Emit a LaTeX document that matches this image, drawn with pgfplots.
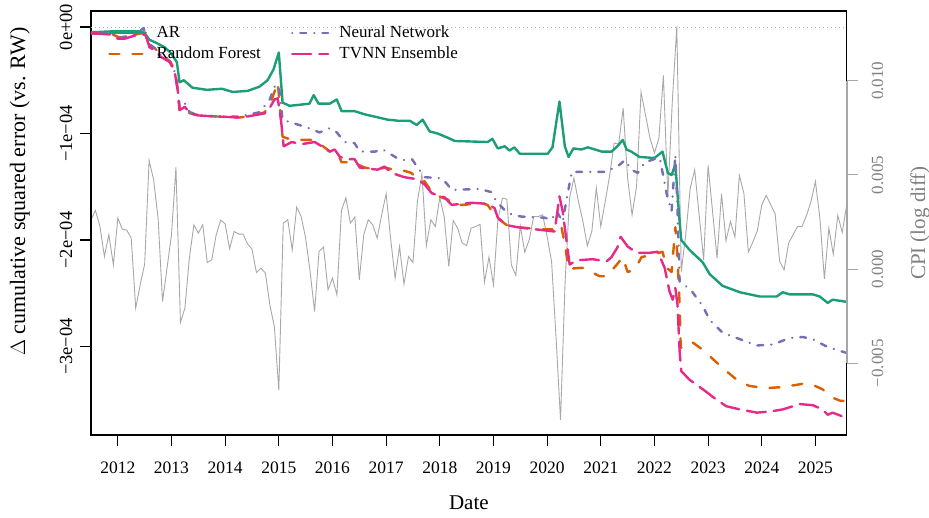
\documentclass[border=0pt]{standalone}
\usepackage{fontspec}
\setmainfont{Liberation Serif}
\usepackage{pgfplots}
\pgfplotsset{compat=1.18}
\definecolor{cAR}{HTML}{1B9E77}
\definecolor{cRF}{HTML}{D95F02}
\definecolor{cNN}{HTML}{7570B3}
\definecolor{cTV}{HTML}{E7298A}
\definecolor{cpigray}{HTML}{A8A8A8}
\definecolor{axgray}{HTML}{A6A6A6}
\definecolor{labgray}{HTML}{808080}
\pgfplotsset{base/.style={width=755.7pt, height=424pt, scale only axis,
  xmin=2011.5, xmax=2025.583, at={(0,0)}, anchor=south west}}
\begin{document}
\begin{tikzpicture}
\path[use as bounding box] (-91pt,-83pt) rectangle (838pt,435pt);
% CPI background
\begin{axis}[base, hide axis, ymin=-0.008806, ymax=0.0137, scaled y ticks=false]
\addplot[cpigray, line width=0.9pt] table {
t v
2011.500 0.00262
2011.583 0.00311
2011.667 0.00226
2011.750 0.00067
2011.833 0.00182
2011.917 0.00023
2012.000 0.00271
2012.083 0.00212
2012.167 0.00207
2012.250 0.00164
2012.333 -0.00207
2012.417 -0.00083
2012.500 0.00026
2012.583 0.00577
2012.667 0.00474
2012.750 0.00271
2012.833 -0.00172
2012.917 0.00005
2013.000 0.00182
2013.083 0.00540
2013.167 -0.00283
2013.250 -0.00207
2013.333 0.00058
2013.417 0.00235
2013.500 0.00191
2013.583 0.00235
2013.667 0.00035
2013.750 0.00049
2013.833 0.00182
2013.917 0.00260
2014.000 0.00240
2014.083 0.00108
2014.167 0.00200
2014.250 0.00186
2014.333 0.00186
2014.417 0.00134
2014.500 0.00106
2014.583 -0.00018
2014.667 0.00005
2014.750 -0.00021
2014.833 -0.00190
2014.917 -0.00305
2015.000 -0.00641
2015.083 0.00244
2015.167 0.00262
2015.250 0.00102
2015.333 0.00329
2015.417 0.00279
2015.500 0.00164
2015.583 -0.00013
2015.667 -0.00225
2015.750 0.00094
2015.833 0.00117
2015.917 -0.00110
2016.000 -0.00048
2016.083 -0.00136
2016.167 0.00311
2016.250 0.00379
2016.333 0.00244
2016.417 0.00276
2016.500 -0.00057
2016.583 0.00182
2016.667 0.00262
2016.750 0.00235
2016.833 0.00164
2016.917 0.00288
2017.000 0.00400
2017.083 0.00164
2017.167 -0.00048
2017.250 0.00120
2017.333 -0.00080
2017.417 0.00067
2017.500 0.00035
2017.583 0.00359
2017.667 0.00504
2017.750 0.00125
2017.833 0.00262
2017.917 0.00226
2018.000 0.00380
2018.083 0.00276
2018.167 0.00014
2018.250 0.00258
2018.333 0.00217
2018.417 0.00138
2018.500 0.00125
2018.583 0.00217
2018.667 0.00226
2018.750 0.00238
2018.833 -0.00069
2018.917 0.00064
2019.000 -0.00083
2019.083 0.00262
2019.167 0.00377
2019.250 0.00371
2019.333 0.00023
2019.417 -0.00034
2019.500 0.00230
2019.583 0.00090
2019.667 0.00156
2019.750 0.00279
2019.833 0.00279
2019.917 0.00288
2020.000 0.00173
2020.083 0.00041
2020.167 -0.00366
2020.250 -0.00800
2020.333 -0.00083
2020.417 0.00377
2020.500 0.00483
2020.583 0.00359
2020.667 0.00253
2020.750 0.00124
2020.833 0.00200
2020.917 0.00430
2021.000 0.00226
2021.083 0.00359
2021.167 0.00500
2021.250 0.00669
2021.333 0.00663
2021.417 0.00854
2021.500 0.00483
2021.583 0.00288
2021.667 0.00439
2021.750 0.00939
2021.833 0.00819
2021.917 0.00695
2022.000 0.00616
2022.083 0.00695
2022.167 0.01028
2022.250 0.00386
2022.333 0.00890
2022.417 0.01288
2022.500 -0.00013
2022.583 0.00182
2022.667 0.00430
2022.750 0.00527
2022.833 0.00288
2022.917 0.00049
2023.000 0.00550
2023.083 0.00306
2023.167 0.00058
2023.250 0.00400
2023.333 0.00150
2023.417 0.00253
2023.500 0.00170
2023.583 0.00497
2023.667 0.00403
2023.750 0.00090
2023.833 0.00143
2023.917 0.00203
2024.000 0.00341
2024.083 0.00391
2024.167 0.00341
2024.250 0.00292
2024.333 0.00041
2024.417 -0.00004
2024.500 0.00138
2024.583 0.00182
2024.667 0.00226
2024.750 0.00226
2024.833 0.00283
2024.917 0.00359
2025.000 0.00465
2025.083 0.00271
2025.167 -0.00052
2025.250 0.00217
2025.333 0.00079
2025.417 0.00285
2025.500 0.00194
2025.583 0.00341
};
\end{axis}
% main axis
\begin{axis}[base, ymin=-3.83, ymax=0.15,
  axis line style={line width=1.2pt},
  tick style={black, line width=1.1pt},
  tick align=outside, major tick length=11pt, tick pos=left,
  xtick={2012,2013,2014,2015,2016,2017,2018,2019,2020,2021,2022,2023,2024,2025},
  xticklabels={2012,2013,2014,2015,2016,2017,2018,2019,2020,2021,2022,2023,2024,2025},
  xticklabel style={anchor=base, inner sep=0pt, font=\fontsize{17.5}{20}\selectfont},
  xticklabel shift=28pt,
  ytick={-3,-2,-1,0},
  yticklabels={−3e−04,−2e−04,−1e−04,0e+00},
  yticklabel style={rotate=90, anchor=base, inner sep=0pt, font=\fontsize{18.5}{20}\selectfont},
  yticklabel shift=8pt,
  xlabel={Date},
  xlabel style={at={(axis description cs:0.5,-0.1769)}, anchor=base, inner sep=0pt, font=\fontsize{21}{24}\selectfont},
  ylabel={$\Delta$ cumulative squared error (vs. RW)},
  ylabel style={at={(axis description cs:-0.0873,0.574)}, anchor=base, inner sep=0pt, font=\fontsize{22}{24}\selectfont},
  legend columns=2, transpose legend, legend cell align=left,
  legend image code/.code={\draw[#1] (0pt,0pt) -- (36pt,0pt);},
  legend style={at={(axis description cs:0.0225,0.967)}, anchor=north west,
    draw=none, fill=none, inner sep=0pt, row sep=5pt, column sep=10pt,
    /tikz/every even column/.append style={column sep=30pt},
    font=\fontsize{17}{20}\selectfont,
    nodes={inner sep=0pt, text height=12pt, text depth=4pt}},
]
\addplot[labgray!60, line width=0.8pt, dash pattern=on 1pt off 3pt, forget plot] coordinates {(2011.5,0) (2025.583,0)};
\addplot[cAR, line width=2.4pt, line cap=round, line join=round] table {
2011.50 -0.05
2011.94 -0.04
2012.43 -0.04
2012.50 -0.06
2012.59 -0.12
2012.72 -0.15
2012.87 -0.19
2012.98 -0.24
2013.10 -0.33
2013.15 -0.52
2013.23 -0.50
2013.39 -0.57
2013.66 -0.59
2013.94 -0.58
2014.14 -0.61
2014.42 -0.60
2014.64 -0.56
2014.79 -0.50
2014.90 -0.40
2015.00 -0.24
2015.07 -0.71
2015.20 -0.74
2015.39 -0.73
2015.57 -0.72
2015.65 -0.64
2015.74 -0.72
2015.95 -0.72
2016.08 -0.68
2016.17 -0.79
2016.41 -0.79
2016.60 -0.82
2017.03 -0.87
2017.22 -0.88
2017.44 -0.88
2017.57 -0.92
2017.68 -0.87
2017.81 -0.98
2017.96 -1.00
2018.15 -1.04
2018.28 -1.07
2018.89 -1.08
2018.98 -1.05
2019.08 -1.14
2019.21 -1.12
2019.30 -1.16
2019.39 -1.13
2019.49 -1.19
2020.01 -1.19
2020.10 -1.13
2020.23 -0.70
2020.33 -1.12
2020.40 -1.22
2020.49 -1.14
2020.64 -1.15
2020.76 -1.13
2021.02 -1.17
2021.20 -1.17
2021.31 -1.12
2021.41 -1.06
2021.48 -1.15
2021.57 -1.17
2021.72 -1.22
2022.00 -1.23
2022.15 -1.17
2022.25 -1.37
2022.32 -1.39
2022.39 -1.29
2022.43 -1.57
2022.47 -1.83
2022.50 -2.00
2022.65 -2.09
2022.90 -2.21
2023.03 -2.32
2023.27 -2.43
2023.59 -2.49
2023.96 -2.53
2024.28 -2.53
2024.39 -2.49
2024.52 -2.51
2024.95 -2.51
2025.08 -2.53
2025.23 -2.59
2025.32 -2.56
2025.58 -2.58
};
\addlegendentry{AR}
\addplot[cRF, line width=2.4pt, line cap=round, line join=round, dash pattern=on 10pt off 13pt] table {
2011.50 -0.06
2011.85 -0.06
2012.04 -0.10
2012.24 -0.08
2012.43 -0.06
2012.54 -0.05
2012.59 -0.17
2012.69 -0.20
2012.80 -0.26
2012.97 -0.32
2013.06 -0.40
2013.12 -0.59
2013.15 -0.78
2013.25 -0.74
2013.34 -0.81
2013.53 -0.83
2013.84 -0.84
2014.27 -0.85
2014.55 -0.83
2014.74 -0.80
2014.87 -0.68
2014.98 -0.52
2015.07 -1.03
2015.24 -1.06
2015.42 -1.06
2015.67 -1.06
2015.85 -1.13
2015.98 -1.18
2016.09 -1.18
2016.17 -1.27
2016.28 -1.27
2016.47 -1.29
2016.60 -1.32
2016.84 -1.34
2016.97 -1.32
2017.16 -1.34
2017.34 -1.35
2017.47 -1.37
2017.59 -1.43
2017.72 -1.45
2017.85 -1.55
2018.03 -1.60
2018.15 -1.62
2018.28 -1.67
2018.46 -1.67
2018.74 -1.65
2018.89 -1.67
2019.06 -1.79
2019.25 -1.86
2019.45 -1.88
2019.90 -1.90
2020.18 -1.90
2020.26 -1.86
2020.33 -2.04
2020.40 -2.27
2020.66 -2.26
2020.98 -2.34
2021.11 -2.34
2021.30 -2.23
2021.41 -2.16
2021.50 -2.30
2021.63 -2.28
2021.76 -2.16
2021.95 -2.14
2022.15 -2.11
2022.23 -2.26
2022.32 -2.30
2022.39 -1.88
2022.43 -2.16
2022.47 -2.61
2022.49 -3.01
2022.56 -3.01
2022.71 -2.96
2022.90 -3.03
2023.16 -3.15
2023.34 -3.23
2023.53 -3.31
2023.77 -3.37
2024.09 -3.39
2024.39 -3.38
2024.76 -3.35
2024.95 -3.36
2025.13 -3.40
2025.32 -3.48
2025.47 -3.51
2025.58 -3.51
};
\addlegendentry{Random Forest}
\addplot[cNN, line width=2.4pt, line cap=round, line join=round, dash pattern=on 0.1pt off 8pt on 6pt off 8pt] table {
2011.50 -0.06
2011.85 -0.06
2012.04 -0.10
2012.24 -0.08
2012.43 -0.03
2012.48 -0.01
2012.56 -0.15
2012.69 -0.20
2012.80 -0.26
2012.97 -0.33
2013.06 -0.42
2013.12 -0.59
2013.15 -0.76
2013.25 -0.72
2013.34 -0.80
2013.53 -0.83
2013.84 -0.84
2014.27 -0.84
2014.64 -0.80
2014.83 -0.68
2014.94 -0.54
2015.01 -0.59
2015.07 -0.87
2015.25 -0.90
2015.51 -0.94
2015.76 -0.99
2015.95 -0.95
2016.08 -0.99
2016.23 -1.08
2016.41 -1.09
2016.51 -1.17
2016.79 -1.17
2016.94 -1.15
2017.20 -1.23
2017.31 -1.25
2017.48 -1.24
2017.59 -1.32
2017.72 -1.41
2018.03 -1.42
2018.13 -1.47
2018.22 -1.53
2018.74 -1.52
2018.96 -1.55
2019.06 -1.64
2019.21 -1.72
2019.34 -1.76
2019.52 -1.78
2019.95 -1.79
2020.08 -1.81
2020.18 -1.73
2020.29 -1.83
2020.38 -1.57
2020.46 -1.36
2020.64 -1.36
2020.88 -1.36
2021.07 -1.36
2021.31 -1.31
2021.45 -1.25
2021.57 -1.34
2021.69 -1.37
2021.82 -1.27
2022.00 -1.24
2022.10 -1.23
2022.23 -1.57
2022.32 -1.73
2022.39 -1.20
2022.43 -1.72
2022.47 -2.39
2022.56 -2.42
2022.71 -2.49
2022.90 -2.62
2023.03 -2.75
2023.27 -2.87
2023.59 -2.93
2023.91 -2.99
2024.21 -2.98
2024.52 -2.92
2024.76 -2.91
2024.95 -2.93
2025.21 -3.00
2025.58 -3.06
};
\addlegendentry{Neural Network}
\addplot[cTV, line width=2.4pt, line cap=round, line join=round, dash pattern=on 19pt off 8pt] table {
2011.50 -0.06
2011.85 -0.07
2012.00 -0.11
2012.13 -0.11
2012.32 -0.08
2012.43 -0.06
2012.52 -0.08
2012.59 -0.19
2012.69 -0.22
2012.80 -0.28
2012.97 -0.33
2013.06 -0.42
2013.12 -0.61
2013.15 -0.78
2013.25 -0.75
2013.34 -0.81
2013.49 -0.83
2013.80 -0.84
2014.31 -0.85
2014.74 -0.81
2014.83 -0.76
2014.92 -0.68
2014.98 -0.67
2015.04 -0.87
2015.09 -1.12
2015.24 -1.08
2015.42 -1.10
2015.67 -1.08
2015.80 -1.12
2015.95 -1.17
2016.04 -1.15
2016.14 -1.22
2016.28 -1.24
2016.41 -1.24
2016.51 -1.32
2016.84 -1.34
2016.97 -1.31
2017.10 -1.37
2017.34 -1.41
2017.59 -1.43
2017.72 -1.48
2017.85 -1.56
2018.09 -1.60
2018.22 -1.67
2018.59 -1.65
2018.89 -1.66
2019.02 -1.70
2019.08 -1.79
2019.25 -1.86
2019.45 -1.88
2020.14 -1.92
2020.23 -1.59
2020.29 -1.73
2020.37 -2.04
2020.42 -2.23
2020.55 -2.19
2020.85 -2.18
2021.11 -2.20
2021.20 -2.16
2021.31 -2.07
2021.37 -1.97
2021.50 -2.06
2021.67 -2.12
2021.91 -2.12
2022.06 -2.11
2022.19 -2.26
2022.28 -2.48
2022.34 -2.56
2022.39 -2.45
2022.43 -2.61
2022.47 -3.05
2022.50 -3.23
2022.65 -3.31
2022.90 -3.40
2023.16 -3.50
2023.34 -3.56
2023.59 -3.59
2023.91 -3.62
2024.15 -3.61
2024.39 -3.59
2024.71 -3.54
2024.95 -3.55
2025.13 -3.59
2025.23 -3.64
2025.32 -3.62
2025.58 -3.67
};
\addlegendentry{TVNN Ensemble}
\end{axis}
% right axis
\begin{axis}[base, ymin=-0.008806, ymax=0.0137, clip=false,
  axis x line=none, axis y line*=right, y axis line style={draw=none},
  scaled y ticks=false,
  tick align=outside, major tick length=11pt,
  ytick={-0.005,0,0.005,0.01},
  yticklabels={−0.005,0.000,0.005,0.010},
  ytick style={axgray, line width=1.1pt},
  yticklabel style={rotate=90, anchor=north, inner sep=0pt, text=labgray, font=\fontsize{17}{20}\selectfont},
  yticklabel shift=14pt,
  ylabel={CPI (log diff)},
  ylabel style={at={(axis description cs:1.1036,0.5)}, anchor=base, rotate=0, inner sep=0pt, text=labgray, font=\fontsize{21}{24}\selectfont},
]
\draw[axgray, line width=1.8pt] (axis cs:2025.583,-0.005) -- (axis cs:2025.583,0.010);
\end{axis}
\end{tikzpicture}
\end{document}
